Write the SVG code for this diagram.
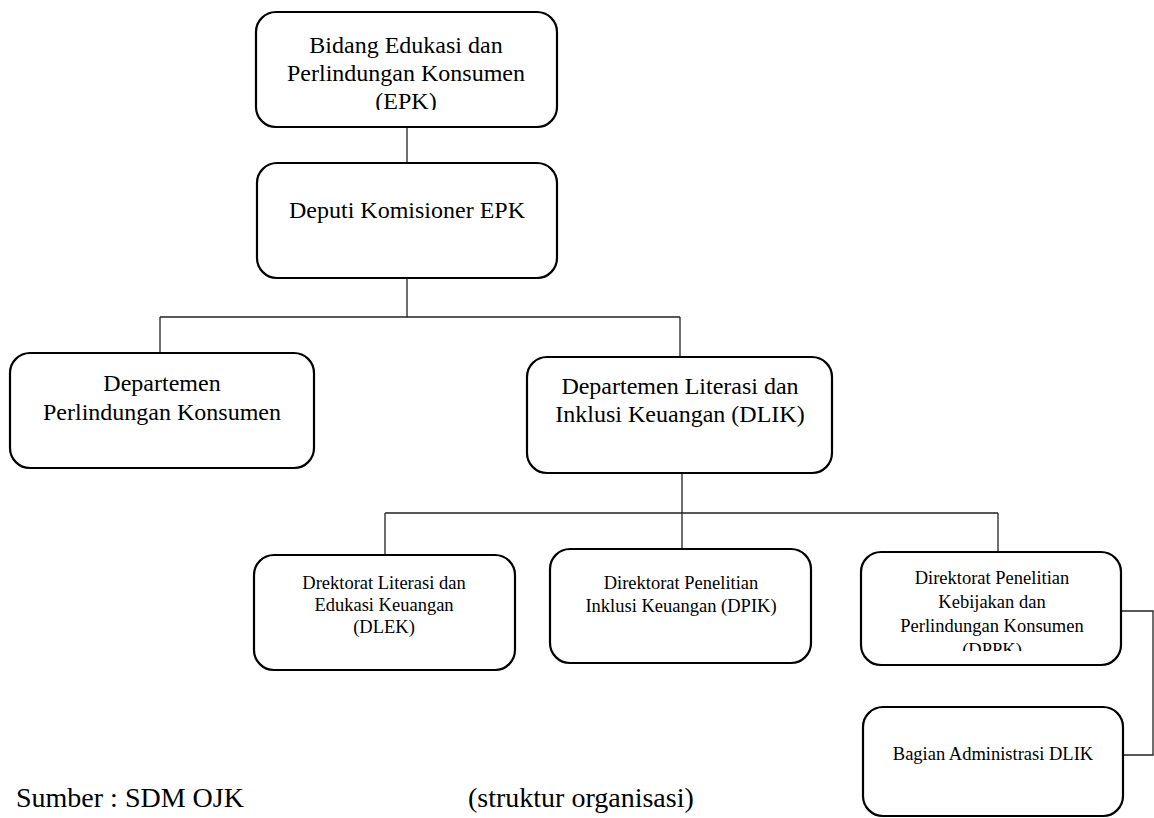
<svg xmlns="http://www.w3.org/2000/svg" width="1154" height="818" viewBox="0 0 1154 818">
<style>
.box{fill:#fff;stroke:#000;stroke-width:2.2}
.t{font-family:"Liberation Serif","Times New Roman",serif;fill:#000;text-anchor:middle}
.big{font-size:24px}
.sm{font-size:18.5px}
.foot{font-family:"Liberation Serif","Times New Roman",serif;fill:#000;font-size:28px}
.ln{stroke:#222;stroke-width:1.3;fill:none}
</style>
<defs>
<clipPath id="c1"><rect x="255" y="12" width="302" height="98"/></clipPath>
<clipPath id="c2"><rect x="861" y="552" width="260" height="99"/></clipPath>
</defs>
<rect width="1154" height="818" fill="#fff"/>
<g id="connectors">
<path class="ln" d="M407,127 V163"/>
<path class="ln" d="M407,278 V317 M160,317 H680 M160,317 V353 M680,317 V357"/>
<path class="ln" d="M682,473 V513 M385,513 H998 M385,513 V555 M682,513 V549 M998,513 V552"/>
<path class="ln" d="M1121,611 H1153 V755 H1123"/>
</g>
<g id="epk">
<rect class="box" x="256" y="12" width="301" height="115" rx="20"/>
<g clip-path="url(#c1)">
<text class="t big" x="406" y="53">Bidang Edukasi dan</text>
<text class="t big" x="406" y="81">Perlindungan Konsumen</text>
<text class="t big" x="406" y="109">(EPK)</text>
</g>
</g>
<g id="deputi">
<rect class="box" x="257" y="163" width="300" height="115" rx="20"/>
<text class="t big" x="407" y="218">Deputi Komisioner EPK</text>
</g>
<g id="dpk">
<rect class="box" x="10" y="353" width="304" height="115" rx="20"/>
<text class="t big" x="162" y="391">Departemen</text>
<text class="t big" x="162" y="420">Perlindungan Konsumen</text>
</g>
<g id="dlik">
<rect class="box" x="527" y="357" width="305" height="116" rx="20"/>
<text class="t big" x="680" y="394">Departemen Literasi dan</text>
<text class="t big" x="680" y="422">Inklusi Keuangan (DLIK)</text>
</g>
<g id="dlek">
<rect class="box" x="254" y="555" width="261" height="115" rx="20"/>
<text class="t sm" x="384" y="589">Drektorat Literasi dan</text>
<text class="t sm" x="384" y="611">Edukasi Keuangan</text>
<text class="t sm" x="384" y="633">(DLEK)</text>
</g>
<g id="dpik">
<rect class="box" x="550" y="549" width="261" height="114" rx="20"/>
<text class="t sm" x="681" y="589">Direktorat Penelitian</text>
<text class="t sm" x="681" y="612">Inklusi Keuangan (DPIK)</text>
</g>
<g id="dppk">
<rect class="box" x="861" y="552" width="260" height="113" rx="20"/>
<g clip-path="url(#c2)">
<text class="t sm" x="992" y="584">Direktorat Penelitian</text>
<text class="t sm" x="992" y="608">Kebijakan dan</text>
<text class="t sm" x="992" y="632">Perlindungan Konsumen</text>
<text class="t sm" x="992" y="656">(DPPK)</text>
</g>
</g>
<g id="bagian">
<rect class="box" x="863" y="707" width="260" height="109" rx="20"/>
<text class="t sm" x="993" y="760">Bagian Administrasi DLIK</text>
</g>
<text class="foot" x="16" y="807">Sumber : SDM OJK</text>
<text class="foot" x="468" y="807">(struktur organisasi)</text>
</svg>
